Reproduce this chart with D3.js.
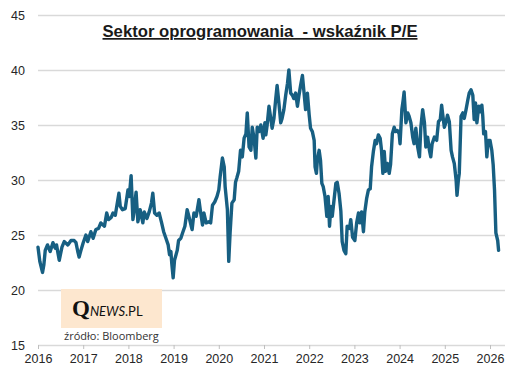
<!DOCTYPE html>
<html>
<head>
<meta charset="utf-8">
<title>Sektor oprogramowania - wskaźnik P/E</title>
<style>
  body { margin: 0; background: #fff; }
  svg { display: block; }
  .axis text { font-family: "Liberation Sans", Arial, sans-serif; font-size: 12.5px; fill: #262626; }
</style>
</head>
<body>
<script src="https://cdn.jsdelivr.net/npm/d3@7"></script>
<script>
// P/E of the software sector (decimal year, value)
const years = [
  2016.00, 2016.04, 2016.10, 2016.13, 2016.16, 2016.21, 2016.27, 2016.33, 2016.38, 2016.41,
  2016.47, 2016.53, 2016.58, 2016.66, 2016.73, 2016.80, 2016.84, 2016.88, 2016.91, 2016.95,
  2017.00, 2017.06, 2017.10, 2017.17, 2017.22, 2017.28, 2017.34, 2017.39, 2017.47, 2017.52,
  2017.56, 2017.62, 2017.66, 2017.71, 2017.79, 2017.82, 2017.87, 2017.93, 2017.99, 2018.02,
  2018.06, 2018.10, 2018.12, 2018.17, 2018.21, 2018.26, 2018.32, 2018.35, 2018.41, 2018.46,
  2018.51, 2018.54, 2018.58, 2018.63, 2018.68, 2018.73, 2018.78, 2018.83, 2018.88, 2018.91,
  2018.94, 2018.96, 2018.99, 2019.02, 2019.08, 2019.11, 2019.16, 2019.20, 2019.25, 2019.30,
  2019.35, 2019.39, 2019.41, 2019.45, 2019.50, 2019.56, 2019.59, 2019.64, 2019.67, 2019.72,
  2019.78, 2019.82, 2019.86, 2019.91, 2019.96, 2020.00, 2020.03, 2020.08, 2020.12, 2020.14,
  2020.19, 2020.22, 2020.25, 2020.29, 2020.34, 2020.37, 2020.40, 2020.44, 2020.48, 2020.52,
  2020.56, 2020.60, 2020.63, 2020.67, 2020.71, 2020.74, 2020.78, 2020.82, 2020.85, 2020.89,
  2020.93, 2020.98, 2021.02, 2021.04, 2021.07, 2021.11, 2021.15, 2021.18, 2021.22, 2021.26,
  2021.29, 2021.33, 2021.37, 2021.40, 2021.44, 2021.48, 2021.52, 2021.55, 2021.59, 2021.63,
  2021.66, 2021.70, 2021.74, 2021.77, 2021.81, 2021.85, 2021.88, 2021.92, 2021.96, 2022.00,
  2022.03, 2022.07, 2022.11, 2022.13, 2022.16, 2022.18, 2022.22, 2022.25, 2022.28, 2022.31,
  2022.35, 2022.39, 2022.42, 2022.45, 2022.48, 2022.51, 2022.55, 2022.59, 2022.62, 2022.66,
  2022.70, 2022.73, 2022.77, 2022.81, 2022.84, 2022.89, 2022.92, 2022.96, 2023.01, 2023.05,
  2023.09, 2023.12, 2023.16, 2023.20, 2023.23, 2023.27, 2023.31, 2023.35, 2023.38, 2023.42,
  2023.46, 2023.49, 2023.53, 2023.57, 2023.60, 2023.63, 2023.66, 2023.69, 2023.73, 2023.77,
  2023.80, 2023.84, 2023.88, 2023.91, 2023.95, 2023.99, 2024.01, 2024.05, 2024.08, 2024.10,
  2024.14, 2024.18, 2024.21, 2024.25, 2024.29, 2024.32, 2024.36, 2024.40, 2024.44, 2024.47,
  2024.51, 2024.55, 2024.58, 2024.62, 2024.66, 2024.69, 2024.72, 2024.77, 2024.82, 2024.86,
  2024.90, 2024.93, 2024.95, 2024.99, 2025.03, 2025.06, 2025.10, 2025.14, 2025.17, 2025.21,
  2025.25, 2025.27, 2025.30, 2025.32, 2025.36, 2025.40, 2025.43, 2025.47, 2025.51, 2025.54,
  2025.58, 2025.62, 2025.65, 2025.68, 2025.71, 2025.75, 2025.79, 2025.82, 2025.84, 2025.86,
  2025.90, 2025.93, 2025.96, 2026.00, 2026.04, 2026.07, 2026.10, 2026.13, 2026.17, 2026.19
];
const pe = [
  23.9, 22.6, 21.6, 22.3, 23.6, 24.1, 23.5, 24.3, 23.8, 24.1,
  22.7, 23.9, 24.4, 24.1, 24.5, 24.5, 24.3, 23.5, 23.0, 23.6,
  24.3, 25.0, 24.4, 25.3, 24.7, 25.5, 25.6, 26.1, 25.8, 27.0,
  26.4, 26.6, 27.0, 26.8, 28.8, 27.6, 27.3, 27.4, 29.1, 28.5,
  30.4, 26.4, 27.0, 28.9, 26.2, 27.3, 26.1, 27.1, 26.5, 27.1,
  27.9, 28.8, 27.0, 26.8, 27.0, 26.2, 25.3, 24.7, 24.1, 23.2,
  23.5, 22.4, 21.1, 22.7, 23.6, 24.5, 24.7, 25.2, 25.8, 27.3,
  26.5, 25.8, 25.5, 27.0, 26.7, 28.2, 27.3, 25.9, 27.0, 26.1,
  26.2, 26.1, 27.7, 28.0, 28.5, 29.1, 30.3, 32.0, 31.2, 29.4,
  27.3, 22.6, 25.2, 27.9, 28.2, 29.8, 30.2, 30.8, 32.7, 32.1,
  33.8, 34.2, 36.1, 33.0, 32.7, 34.8, 33.8, 32.0, 34.8, 34.4,
  35.0, 33.8, 35.2, 34.1, 35.0, 36.7, 35.6, 34.7, 35.6, 37.4,
  38.6, 37.0, 35.2, 35.6, 36.4, 37.7, 38.8, 40.0, 37.9, 37.7,
  37.4, 37.9, 36.7, 37.6, 38.6, 39.5, 38.2, 36.4, 37.9, 35.9,
  34.7, 34.4, 33.6, 31.2, 30.6, 31.8, 32.7, 31.8, 29.7, 29.4,
  28.5, 26.7, 28.5, 25.8, 27.6, 26.7, 28.2, 29.7, 29.8, 28.8,
  27.2, 24.4, 23.6, 23.3, 25.8, 25.6, 26.4, 24.8, 24.5, 26.1,
  27.0, 26.1, 27.1, 25.3, 27.1, 28.3, 29.1, 29.2, 31.2, 32.6,
  33.6, 33.3, 34.1, 33.8, 32.7, 30.6, 32.6, 30.8, 31.5, 30.6,
  31.4, 34.2, 34.8, 34.4, 34.5, 34.2, 33.3, 36.4, 37.3, 38.0,
  35.2, 36.1, 35.8, 35.2, 33.9, 33.3, 34.7, 33.0, 32.1, 34.8,
  36.4, 35.2, 33.0, 33.9, 32.7, 32.1, 33.3, 33.9, 33.6, 35.3,
  35.5, 36.8, 36.1, 34.8, 35.3, 35.9, 35.3, 32.7, 32.1, 31.5,
  30.0, 28.6, 30.0, 30.6, 35.8, 36.1, 35.6, 36.4, 37.3, 37.9,
  38.2, 37.7, 35.5, 37.0, 35.2, 36.7, 36.2, 36.8, 35.8, 34.2,
  34.4, 32.1, 33.6, 33.6, 32.7, 31.4, 29.1, 25.2, 24.5, 23.6
];
const xTicks = [2016, 2017, 2018, 2019, 2020, 2021, 2022, 2023, 2024, 2025, 2026];
const yTicks = [15, 20, 25, 30, 35, 40, 45];
const title = "Sektor oprogramowania  - wskaźnik P/E";
const source = "źródło: Bloomberg";

const W = 520, H = 378;
const m = { left: 38, right: 505, top: 15, bottom: 345 };

const svg = d3.select("body").append("svg")
  .attr("width", W)
  .attr("height", H);

const x = d3.scaleLinear().domain([2016, 2026]).range([m.left, 490]);
const y = d3.scaleLinear().domain([15, 45]).range([m.bottom, m.top]);

// gridlines + y labels
const yAxis = svg.append("g")
  .attr("class", "axis")
  .attr("transform", `translate(${m.left},0)`)
  .call(d3.axisLeft(y).tickValues(yTicks).tickSize(-(m.right - m.left)).tickPadding(13));
yAxis.select(".domain").remove();
yAxis.selectAll("line").attr("stroke", "#d9d9d9").attr("stroke-width", 1.5);

// x axis
const xAxis = svg.append("g")
  .attr("class", "axis")
  .attr("transform", `translate(0,${m.bottom})`)
  .call(d3.axisBottom(x).tickValues(xTicks).tickFormat(d3.format("d")).tickSize(4).tickPadding(5));
xAxis.select(".domain").remove();
xAxis.selectAll("line").attr("stroke", "#bfbfbf");

// logo box
const logo = svg.append("g");
logo.append("rect")
  .attr("x", 61).attr("y", 289)
  .attr("width", 101).attr("height", 39)
  .attr("fill", "#fde7cf");
const lt = logo.append("text")
  .attr("x", 72).attr("y", 316)
  .attr("fill", "#111");
lt.append("tspan")
  .attr("font-family", "Liberation Serif, 'DejaVu Serif', serif")
  .attr("font-weight", "bold")
  .attr("font-size", 23)
  .text("Q");
lt.append("tspan")
  .attr("font-family", "Lato, 'Liberation Sans', sans-serif")
  .attr("font-style", "italic")
  .attr("font-size", 13)
  .text("NEWS");
lt.append("tspan")
  .attr("font-family", "Lato, 'Liberation Sans', sans-serif")
  .attr("font-size", 13)
  .text(".PL");

svg.append("text")
  .attr("x", 64).attr("y", 340)
  .attr("font-family", "'Open Sans', 'Liberation Sans', sans-serif")
  .attr("font-size", 11)
  .attr("fill", "#333")
  .text(source);

// the line
const line = d3.line()
  .x((d, i) => x(years[i]))
  .y(d => y(d));

svg.append("path")
  .datum(pe)
  .attr("fill", "none")
  .attr("stroke", "#175f82")
  .attr("stroke-width", 3.4)
  .attr("stroke-linejoin", "round")
  .attr("stroke-linecap", "round")
  .attr("d", line);

// title
svg.append("text")
  .attr("x", 260).attr("y", 37)
  .attr("text-anchor", "middle")
  .attr("font-family", "'Liberation Sans Narrow', 'Arial Narrow', 'Liberation Sans', sans-serif")
  .attr("font-weight", "bold")
  .attr("font-size", 17)
  .attr("fill", "#1a1a1a")
  .attr("text-decoration", "underline")
  .attr("textLength", 315)
  .attr("lengthAdjust", "spacingAndGlyphs")
  .style("white-space", "pre")
  .text(title);
</script>
</body>
</html>
